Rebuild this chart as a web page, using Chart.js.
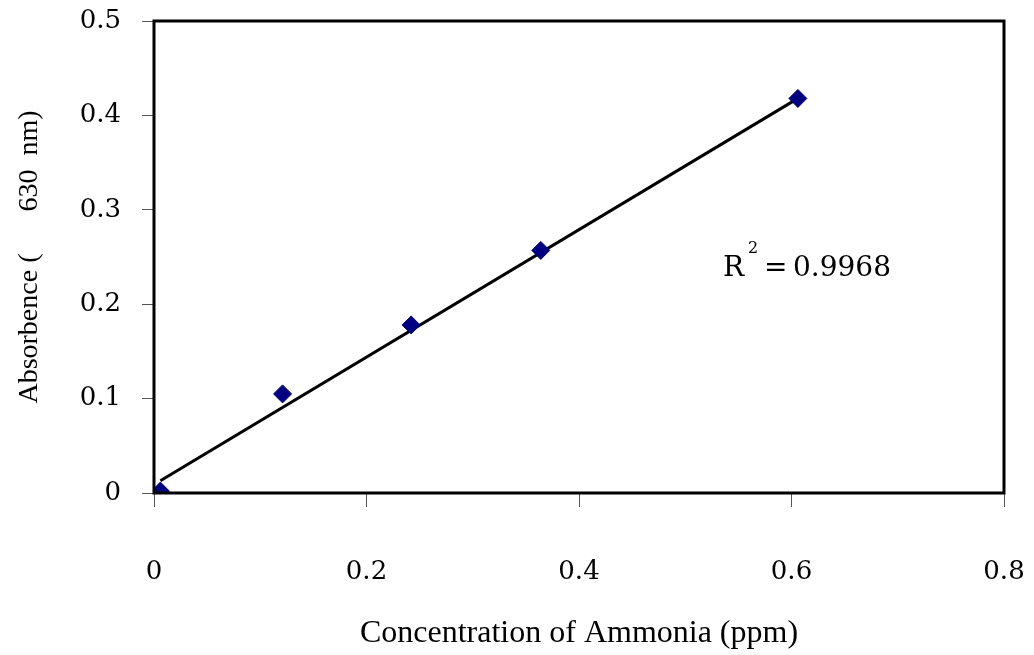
<!DOCTYPE html>
<html>
<head>
<meta charset="utf-8">
<script src="https://cdn.jsdelivr.net/npm/chart.js@4.4.0/dist/chart.umd.min.js"></script>
<style>
  html, body { margin: 0; padding: 0; background: #fff; }
  #wrap { width: 1034px; height: 655px; }
</style>
</head>
<body>
<div id="wrap"><canvas id="chart" width="1034" height="655"></canvas></div>
<script>
// values
const concentration = [0.006, 0.121, 0.242, 0.364, 0.606];
const absorbance = [0.002, 0.105, 0.178, 0.257, 0.418];
// linear trendline end points
const trendX = [0.006, 0.606];
const trendY = [0.013, 0.418];
const rSquared = "0.9968";

const SERIF = "'DejaVu Serif', serif";
const TITLE_FONT = "'Liberation Serif', 'Times New Roman', serif";
const NBSP = "\u00a0";

/*************************************************************
 * Plot frame + R² note
 *************************************************************/
const framePlugin = {
  id: "frame",
  afterDraw(chart) {
    const { ctx, chartArea: a, scales } = chart;
    ctx.save();
    ctx.strokeStyle = "#000";
    ctx.lineWidth = 3;
    ctx.strokeRect(a.left, a.top, a.right - a.left, a.bottom - a.top);

    const x = scales.x.getPixelForValue(0.5355);
    const y = scales.y.getPixelForValue(0.238);
    ctx.fillStyle = "#000";
    ctx.textBaseline = "middle";
    ctx.font = "28px " + SERIF;
    ctx.fillText("R", x, y);
    ctx.font = "16px " + SERIF;
    ctx.fillText("2", x + 25, y - 19);
    ctx.font = "28px " + SERIF;
    ctx.fillText("=", x + 41, y);
    ctx.fillText(rSquared, x + 70, y);
    ctx.restore();
  },
};

const points = concentration.map((c, i) => ({ x: c, y: absorbance[i] }));
const trend = trendX.map((c, i) => ({ x: c, y: trendY[i] }));

new Chart(document.getElementById("chart"), {
  type: "scatter",
  data: {
    datasets: [
      {
        data: trend,
        showLine: true,
        borderColor: "#000",
        borderWidth: 3,
        pointRadius: 0,
        order: 2,
      },
      {
        data: points,
        pointStyle: "rectRot",
        pointRadius: 9,
        backgroundColor: "#000080",
        borderColor: "#000080",
        borderWidth: 1,
        order: 1,
      },
    ],
  },
  options: {
    animation: false,
    responsive: false,
    layout: { padding: { top: 21, right: 30, left: 0, bottom: 0 } },
    plugins: { legend: { display: false }, tooltip: { enabled: false } },
    scales: {
      x: {
        type: "linear",
        min: 0,
        max: 0.8,
        ticks: {
          stepSize: 0.2,
          color: "#000",
          padding: 50,
          font: { family: SERIF, size: 26 },
          callback: (v) => (v === 0 ? "0" : v.toFixed(1)),
        },
        grid: { drawOnChartArea: false, tickLength: 14, color: "#555", tickWidth: 1 },
        border: { display: false },
        title: {
          display: true,
          text: "Concentration of Ammonia (ppm)",
          color: "#000",
          font: { family: TITLE_FONT, size: 32 },
          padding: { top: 10, bottom: 2 },
        },
        afterFit: (scale) => {
          scale.height = 162;
          scale.paddingLeft = 0;
          scale.paddingRight = 0;
        },
      },
      y: {
        type: "linear",
        min: 0,
        max: 0.5,
        ticks: {
          stepSize: 0.1,
          color: "#000",
          padding: 21,
          font: { family: SERIF, size: 26 },
          callback: (v) => (v === 0 ? "0" : v.toFixed(1)),
        },
        grid: { drawOnChartArea: false, tickLength: 12, color: "#555", tickWidth: 1 },
        border: { display: false },
        title: {
          display: true,
          text: "Absorbence (" + NBSP.repeat(6) + "630" + NBSP.repeat(2) + "nm)",
          color: "#000",
          font: { family: TITLE_FONT, size: 28 },
          padding: { top: 13, bottom: 0 },
        },
        afterFit: (scale) => {
          scale.width = 154;
          scale.paddingTop = 0;
          scale.paddingBottom = 0;
        },
      },
    },
  },
  plugins: [framePlugin],
});
</script>
</body>
</html>
